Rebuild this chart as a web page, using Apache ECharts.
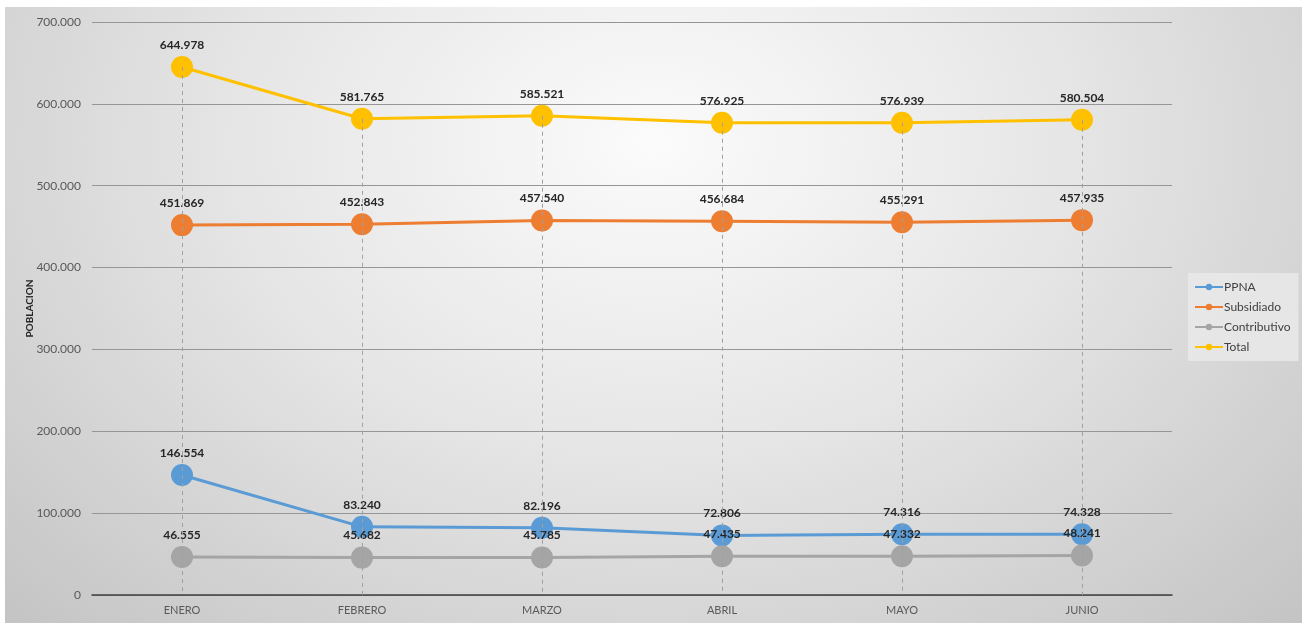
<!DOCTYPE html>
<html>
<head>
<meta charset="utf-8">
<script src="https://cdn.jsdelivr.net/npm/echarts@6/dist/echarts.min.js"></script>
<style>
  html, body { margin: 0; padding: 0; background: #ffffff; }
  #main {
    position: absolute;
    left: 5px;
    top: 7px;
    width: 1297px;
    height: 616px;
    background: radial-gradient(ellipse at 50% 22%, #fbfbfb 0%, #e6e6e6 45%, #c4c4c4 100%);
  }
</style>
</head>
<body>
<div id="main"></div>
<script>
const months = ["ENERO", "FEBRERO", "MARZO", "ABRIL", "MAYO", "JUNIO"];
const ppna = [146554, 83240, 82196, 72806, 74316, 74328];
const subsidiado = [451869, 452843, 457540, 456684, 455291, 457935];
const contributivo = [46555, 45682, 45785, 47435, 47332, 48241];
const total = [644978, 581765, 585521, 576925, 576939, 580504];

const chartDom = document.getElementById("main");
const myChart = echarts.init(chartDom);
const font = "Lato, 'Open Sans', sans-serif";

function fmt(v) {
  return String(v).replace(/\B(?=(\d{3})+(?!\d))/g, ".");
}

function makeSeries(name, data, color) {
  return {
    name: name,
    type: "line",
    data: data,
    color: color,
    symbol: "circle",
    symbolSize: 22,
    lineStyle: { width: 3, color: color },
    itemStyle: { color: color },
    label: {
      show: true,
      position: "top",
      distance: 5,
      fontFamily: font,
      fontWeight: "bold",
      fontSize: 12,
      color: "#262626",
      formatter: (params) => fmt(params.value),
    },
  };
}

const series = [
  makeSeries("PPNA", ppna, "#5B9BD5"),
  makeSeries("Subsidiado", subsidiado, "#ED7D31"),
  makeSeries("Contributivo", contributivo, "#A5A5A5"),
  makeSeries("Total", total, "#FFC000"),
];

// drop lines from the total point down to the axis
series[3].markLine = {
  silent: true,
  symbol: ["none", "none"],
  label: { show: false },
  lineStyle: { type: [4, 4], color: "#a0a0a0", width: 1 },
  data: months.map((m, i) => [
    { coord: [m, total[i]] },
    { coord: [m, 0] },
  ]),
};

const option = {
  animation: false,
  backgroundColor: "transparent",
  grid: { left: 87, right: 130, top: 15, bottom: 28 },
  legend: {
    orient: "vertical",
    left: 1183,
    top: 266,
    data: ["PPNA", "Subsidiado", "Contributivo", "Total"],
    itemWidth: 28,
    itemHeight: 8,
    itemGap: 8,
    padding: [8, 8, 8, 6],
    backgroundColor: "rgba(232,232,232,0.9)",
    textStyle: { fontFamily: font, fontSize: 12, color: "#404040", padding: [0, 0, 0, -4] },
  },
  xAxis: {
    type: "category",
    data: months,
    boundaryGap: true,
    axisLine: { lineStyle: { color: "#404040", width: 1.5 } },
    axisTick: { show: false },
    axisLabel: { fontFamily: font, fontSize: 11, color: "#595959", margin: 10 },
    splitLine: { show: false },
  },
  yAxis: {
    type: "value",
    min: 0,
    max: 700000,
    interval: 100000,
    name: "POBLACION",
    nameLocation: "middle",
    nameGap: 57,
    nameMoveOverlap: false,
    nameRotate: 90,
    nameTextStyle: { fontFamily: font, fontWeight: "bold", fontSize: 10, color: "#262626" },
    axisLine: { show: false },
    axisTick: { show: false },
    axisLabel: {
      fontFamily: font,
      fontSize: 12,
      color: "#595959",
      margin: 11,
      formatter: (v) => fmt(v),
    },
    splitLine: { lineStyle: { color: "#969696", width: 1 } },
  },
  series: series,
};

myChart.setOption(option);
</script>
</body>
</html>
